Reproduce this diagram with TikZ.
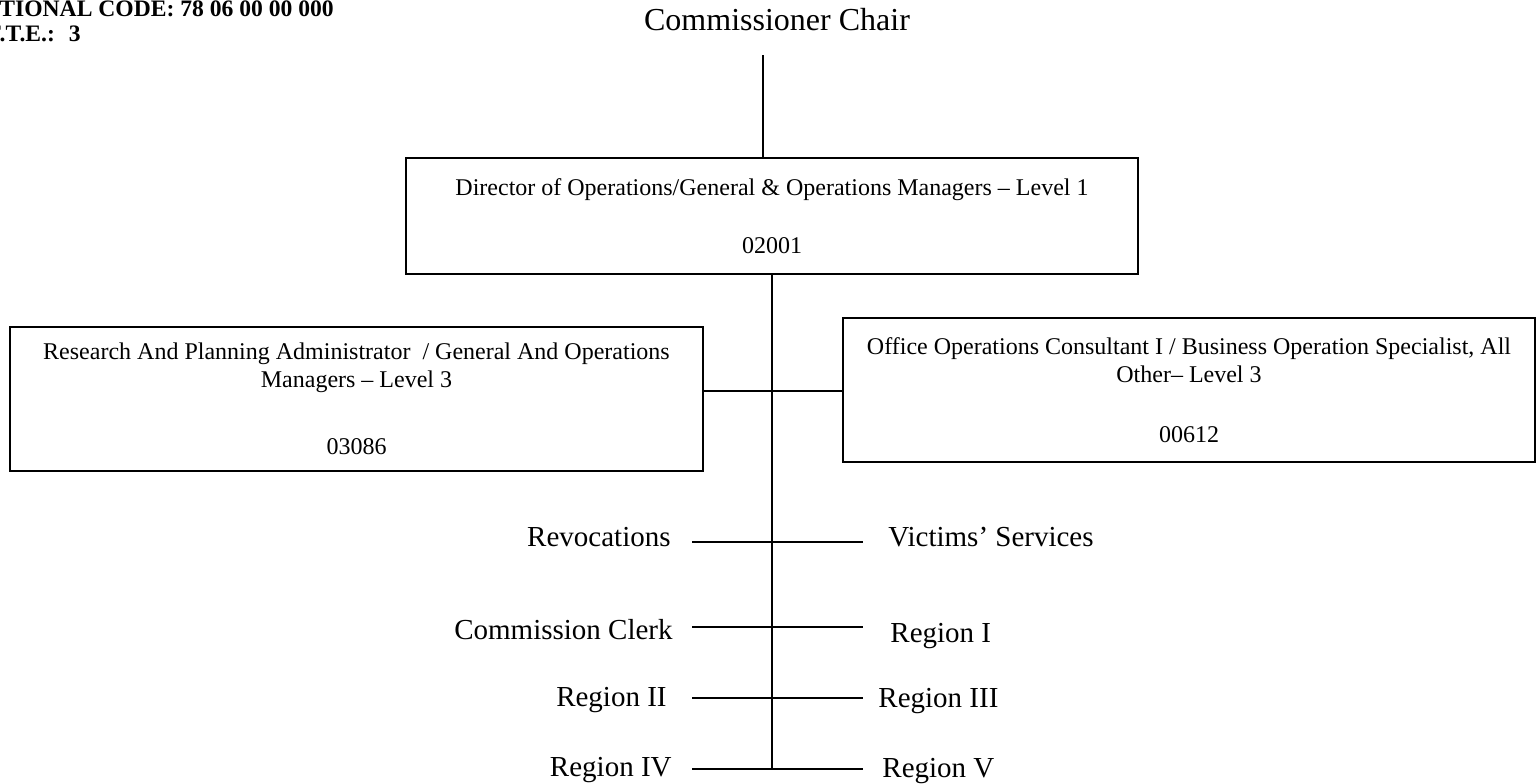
\documentclass[tikz,border=0pt]{standalone}
\usepackage{fontspec}
\setmainfont{Liberation Serif}

\begin{document}
\begin{tikzpicture}[x=0.5pt,y=-0.5pt,line cap=butt,
  conn/.style={line width=1pt},
  post/.style={draw,line width=1.3pt,inner sep=0pt,align=center,font=\fontsize{12}{13.8}\selectfont},
  unit/.style={inner sep=0pt,font=\fontsize{14.5}{17}\selectfont},
  hdr/.style={inner sep=0pt,anchor=base west,font=\fontsize{11.8}{13}\selectfont\bfseries}]
\useasboundingbox (0,0) rectangle (1537,783);
% header, cut at the page edge
\node[hdr] (code) at (-1,16) {TIONAL CODE: 78 06 00 00 000};
\node[hdr] (fte) at (-13,41) {F.T.E.:\hspace{7pt}3};
% top of the chart
\node[unit,anchor=base,font=\fontsize{16}{19}\selectfont] (chair) at (777,30) {Commissioner Chair};
\node[post,minimum width=366pt,minimum height=58pt] (dir) at (772,216)
  {Director of Operations/General \& Operations Managers -- Level 1\\[15.2pt]02001};
\node[post,minimum width=346.5pt,minimum height=72pt] (plan) at (356.5,399)
  {Research And Planning Administrator\ \ / General And Operations\\Managers -- Level 3\\[19.7pt]03086};
\node[post,minimum width=346pt,minimum height=72pt] (ops) at (1189,390)
  {Office Operations Consultant I / Business Operation Specialist, All\\Other-- Level 3\\[16.2pt]00612};
\coordinate (ctop) at (763,55);
\draw[conn] (ctop) -- (ctop |- dir.north);
\coordinate (mid) at (772,391);
\draw[conn] (plan.east |- mid) -- (ops.west |- mid);
\coordinate (tend) at (772,769);
\draw[conn] (dir.south) -- (tend);
% units hanging off the trunk
\node[unit,anchor=base east] (revo) at (671,546) {Revocations};
\node[unit,anchor=base west] (vict) at (888,546) {Victims' Services};
\node[unit,anchor=base east] (clerk) at (673,639) {Commission Clerk};
\node[unit,anchor=base west] (reg1) at (890,642) {Region I};
\node[unit,anchor=base east] (reg2) at (667,706) {Region II};
\node[unit,anchor=base west] (reg3) at (878,707) {Region III};
\node[unit,anchor=base east] (reg4) at (672,776) {Region IV};
\node[unit,anchor=base west] (reg5) at (882,777) {Region V};
\coordinate (row1l) at (692,542); \coordinate (row1r) at (863,542);
\coordinate (row2l) at (692,627); \coordinate (row2r) at (863,627);
\coordinate (row3l) at (692,698); \coordinate (row3r) at (863,698);
\coordinate (row4l) at (692,769); \coordinate (row4r) at (863,769);
\draw[conn] (row1l) -- (row1r);
\draw[conn] (row2l) -- (row2r);
\draw[conn] (row3l) -- (row3r);
\draw[conn] (row4l) -- (row4r);
\end{tikzpicture}
\end{document}
